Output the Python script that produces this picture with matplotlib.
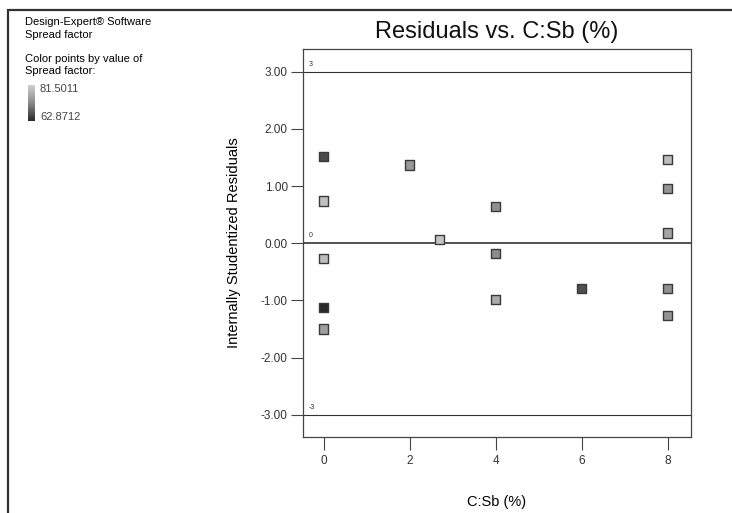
import matplotlib
matplotlib.use("Agg")
import matplotlib.pyplot as plt
import numpy as np
from matplotlib.colors import LinearSegmentedColormap, Normalize
from matplotlib.patches import Rectangle

plt.rcParams['font.family'] = ['Liberation Sans', 'DejaVu Sans']

# Run data: factor level, internally studentized residual, response value
csb = [0, 2, 8, 0, 4, 8, 8, 2.7, 0, 4, 6, 8, 4, 0, 8, 0]
residuals = [1.52, 1.37, 1.46, 0.74, 0.65, 0.96, 0.18, 0.06,
             -0.26, -0.18, -0.79, -0.79, -0.99, -1.12, -1.26, -1.50]
spread = [66.0, 74.0, 79.0, 79.5, 73.0, 73.5, 76.0, 80.0,
          79.0, 72.5, 66.5, 73.0, 76.5, 62.8712, 73.5, 75.0]
spread_min, spread_max = 62.8712, 81.5011
limit_lines = [3, 0, -3]
limit_labels = ["3", "0", "-3"]
yticks = [3, 2, 1, 0, -1, -2, -3]
xticks = [0, 2, 4, 6, 8]

cmap = LinearSegmentedColormap.from_list("greys", ["#2a2a2a", "#8a8a8a", "#cfcfcf"])
norm = Normalize(spread_min, spread_max)

fig = plt.figure(figsize=(7.32, 5.13), dpi=100)

# outer frame of the report panel
fig.add_artist(Rectangle((8 / 732, -0.05), 1.2, 1 - 10 / 513 + 0.05,
                         transform=fig.transFigure, fill=False,
                         edgecolor="#333333", linewidth=1.6))

ax = fig.add_axes([303 / 732, 1 - 437 / 513, 388 / 732, 388 / 513])
ax.set_xlim(-0.48, 8.54)
ax.set_ylim(-3.39, 3.40)

for v, lab in zip(limit_lines, limit_labels):
    lw = 1.2 if v == 0 else 0.8
    ax.axhline(v, color="#333333", linewidth=lw, zorder=1)
    ax.text(-0.35, v + 0.07, lab, fontsize=5, color="#333333",
            va="bottom", ha="left")

colors = [cmap(norm(s)) for s in spread]
ax.scatter(csb, residuals, marker="s", s=44, c=colors,
           edgecolors="#3a3a3a", linewidths=1.0, zorder=3)

ax.set_yticks(yticks)
ax.set_yticklabels([f"{t:.2f}" for t in yticks])
ax.set_xticks(xticks)
ax.tick_params(axis="both", direction="out", length=9, width=0.8,
               color="#444444", labelsize=8.5, labelcolor="#333333", pad=2)
ax.tick_params(axis="x", pad=4)
for sp in ax.spines.values():
    sp.set_color("#444444")
    sp.set_linewidth(0.9)

ax.set_title("Residuals vs. C:Sb (%)", fontsize=17, pad=8, color="#111111")
ax.set_ylabel("Internally Studentized Residuals", fontsize=10.5, labelpad=14)
ax.set_xlabel("C:Sb (%)", fontsize=10.5)
ax.xaxis.set_label_coords(0.5, -0.15)

# side legend text
fig.text(25 / 732, 1 - 22 / 513, "Design-Expert® Software", fontsize=8, va="center")
fig.text(25 / 732, 1 - 35 / 513, "Spread factor", fontsize=8, va="center")
fig.text(25 / 732, 1 - 59 / 513, "Color points by value of", fontsize=8, va="center")
fig.text(25 / 732, 1 - 71 / 513, "Spread factor:", fontsize=8, va="center")
fig.text(40 / 732, 1 - 89 / 513, f"{spread_max:.4f}", fontsize=8, va="center", color="#444444")
fig.text(40 / 732, 1 - 117 / 513, f"{spread_min:.4f}", fontsize=8, va="center", color="#444444")

cax = fig.add_axes([28 / 732, 1 - 121 / 513, 7 / 732, 36 / 513])
grad = np.linspace(spread_max, spread_min, 50).reshape(-1, 1)
cax.imshow(grad, cmap=cmap, norm=norm, aspect="auto")
cax.set_axis_off()

fig.savefig("out.png", dpi=100)
